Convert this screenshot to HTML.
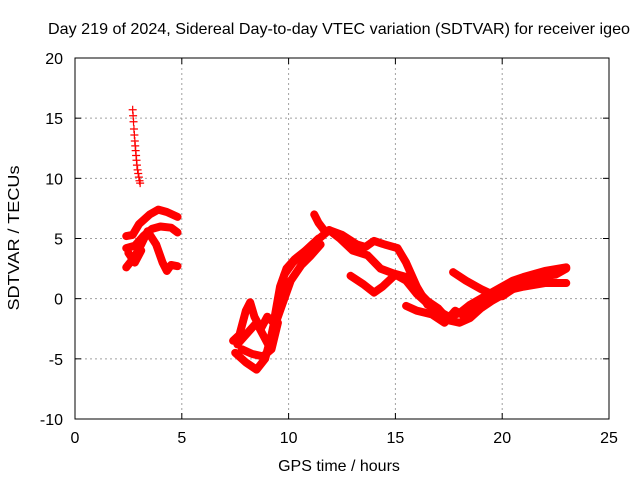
<!DOCTYPE html>
<html><head><meta charset="utf-8"><style>
body{margin:0;background:#fff;}
svg text{font-family:"Liberation Sans",sans-serif;font-size:16px;fill:#000;}
</style></head><body>
<svg id="chart" width="640" height="480">
<text x="339" y="34" text-anchor="middle" textLength="582" lengthAdjust="spacingAndGlyphs">Day 219 of 2024, Sidereal Day-to-day VTEC variation (SDTVAR) for receiver igeo</text>
<g id="grid"></g><g id="axes"></g><g id="series"></g>
<text x="339" y="471" text-anchor="middle">GPS time / hours</text>
<text transform="translate(19,238) rotate(-90)" text-anchor="middle" textLength="145" lengthAdjust="spacingAndGlyphs">SDTVAR / TECUs</text>
</svg>
<script>
const xTicks=[0,5,10,15,20,25];
const yTicks=[-10,-5,0,5,10,15,20];
const crossTime=[2.7,2.72,2.74,2.76,2.78,2.8,2.82,2.84,2.86,2.88,2.9,2.93,2.96,2.99,3.02,3.05];
const crossVal=[15.7,15.2,14.7,14.1,13.6,13.1,12.7,12.3,11.9,11.5,11.1,10.7,10.4,10.1,9.8,9.6];
const tracks=[
[[2.4,5.2],[2.7,5.3],[3.0,6.2],[3.5,7.0],[3.9,7.4],[4.3,7.2],[4.8,6.8]],
[[2.4,4.2],[2.8,4.4],[3.2,5.2],[3.6,5.8],[4.0,6.0],[4.5,5.9],[4.8,5.5]],
[[2.4,2.6],[2.8,3.5],[3.1,4.5],[3.4,5.6],[3.8,4.5],[4.1,3.0],[4.3,2.3],[4.5,2.8],[4.8,2.7]],
[[2.5,3.8],[2.8,3.0],[3.1,4.0]],
[[7.4,-3.5],[7.7,-3.0],[8.0,-1.0],[8.2,-0.3],[8.4,-1.5],[8.7,-2.5],[9.0,-1.5],[9.3,-2.0],[9.6,1.0],[9.9,2.5],[10.3,3.3],[10.8,4.0],[11.3,4.8],[11.9,5.7]],
[[7.5,-4.5],[8.0,-5.3],[8.5,-5.9],[8.9,-5.0],[9.2,-3.0],[9.5,-0.5],[9.8,2.0],[10.2,3.0],[10.8,4.0],[11.4,5.0]],
[[7.6,-3.8],[8.0,-3.0],[8.5,-2.0],[8.8,-3.0],[9.1,-4.0],[9.4,-2.0],[9.7,-0.5],[10.1,1.5],[10.6,2.8],[11.0,3.5],[11.5,4.5]],
[[7.8,-4.2],[8.3,-4.6],[8.8,-4.8],[9.2,-4.2],[9.5,-2.0]],
[[11.2,7.0],[11.4,6.3],[11.7,5.6]],
[[11.9,5.7],[12.5,5.3],[13.2,4.5],[13.6,4.3],[14.0,4.8],[14.5,4.5],[15.1,4.2],[15.5,3.0],[16.0,1.0],[16.5,-0.5],[17.0,-1.0],[17.5,-1.5],[18.0,-1.2],[18.5,-0.5],[19.0,0.0],[19.5,0.5],[20.0,1.0],[20.5,1.5],[21.0,1.8],[22.0,2.3],[23.0,2.6]],
[[11.9,5.7],[12.4,5.0],[13.0,4.0],[13.7,3.6],[14.3,2.5],[14.9,2.1],[15.5,1.8],[16.0,0.7],[16.5,-0.2],[17.0,-0.8],[17.5,-1.8],[18.0,-2.0],[18.5,-1.6],[19.0,-0.8],[19.5,-0.2],[20.0,0.3],[20.5,0.8],[21.0,1.0],[22.0,1.3],[23.0,1.3]],
[[12.9,1.9],[13.5,1.2],[14.0,0.5],[14.4,1.0],[14.7,1.5],[15.0,2.0],[15.5,1.5],[16.0,0.4],[16.5,-0.4]],
[[15.5,-0.6],[16.0,-1.0],[16.7,-1.3],[17.3,-2.0],[17.8,-1.0],[18.3,-1.5],[18.8,-0.8],[19.5,0.0],[20.0,0.5]],
[[17.7,2.2],[18.3,1.5],[19.0,0.8],[19.6,0.3],[20.0,0.2],[20.5,0.8],[21.0,1.5],[21.5,1.8],[22.5,2.0],[23.0,2.5]]
];
const NS="http://www.w3.org/2000/svg";
const L=75,R=609,T=58,B=419;
function X(t){return L+(t-0)/25*(R-L);}
function Y(v){return B-(v+10)/30*(B-T);}
function mk(tag,attrs,parent){const e=document.createElementNS(NS,tag);for(const k in attrs)e.setAttribute(k,attrs[k]);parent.appendChild(e);return e;}
const grid=document.getElementById('grid'),axes=document.getElementById('axes'),ser=document.getElementById('series');
xTicks.forEach(t=>{
 if(t>0&&t<25){const g=mk('line',{x1:X(t),x2:X(t),y1:T,y2:B,stroke:'#a0a0a0','stroke-dasharray':'2,3'},grid);
 
 }
 mk('line',{x1:X(t),x2:X(t),y1:B,y2:B-6,stroke:'#000'},axes);
 mk('line',{x1:X(t),x2:X(t),y1:T,y2:T+6,stroke:'#000'},axes);
 const tx=mk('text',{x:X(t),y:B+24,'text-anchor':'middle'},axes);tx.textContent=t;
 
 
});
yTicks.forEach(v=>{
 if(v>-10&&v<20){const g=mk('line',{x1:L,x2:R,y1:Y(v),y2:Y(v),stroke:'#a0a0a0','stroke-dasharray':'2,3'},grid);
 
 }
 mk('line',{x1:L,x2:L+6,y1:Y(v),y2:Y(v),stroke:'#000'},axes);
 mk('line',{x1:R,x2:R-6,y1:Y(v),y2:Y(v),stroke:'#000'},axes);
 const tx=mk('text',{x:L-12,y:Y(v)+6,'text-anchor':'end'},axes);tx.textContent=v;
 
 
});
const fr=mk('rect',{x:L,y:T,width:R-L,height:B-T,fill:'none',stroke:'#000'},axes);


tracks.forEach(tr=>{
 const p=mk('polyline',{points:tr.map(d=>X(d[0])+','+Y(d[1])).join(' '),fill:'none',stroke:'#f00','stroke-width':8,'stroke-linejoin':'round','stroke-linecap':'round'},ser);
 
 
});
crossTime.forEach((t,i)=>{
 const x=X(t),y=Y(crossVal[i]);
 const c=mk('path',{d:`M${x-4},${y}H${x+4}M${x},${y-4}V${y+4}`,stroke:'#f00','stroke-width':1.2},ser);
 
 
});
</script>
</body></html>
